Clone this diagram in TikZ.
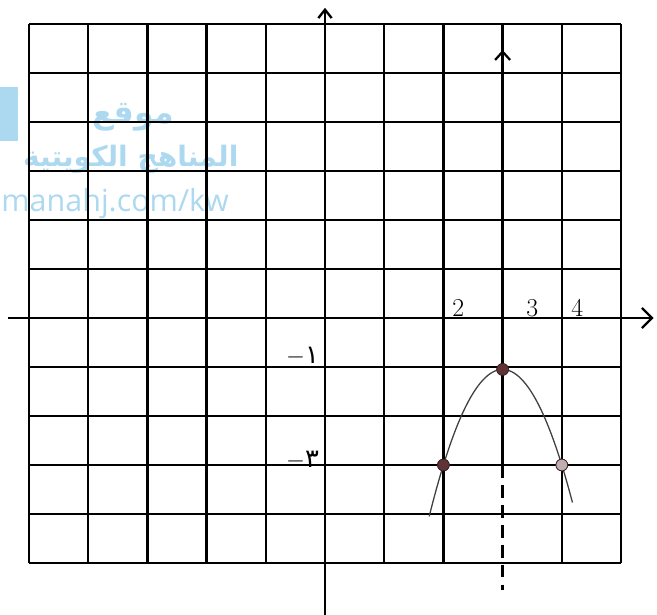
\documentclass[tikz,border=0pt]{standalone}
\usepackage{fontspec}
\newfontfamily\arabicfont[Script=Arabic]{DejaVu Sans}
\newfontfamily\wmfont{Open Sans}
\TeXXeTstate=1
\usepackage{tikz}
\usetikzlibrary{arrows.meta}

\begin{document}
\begin{tikzpicture}[x=1.776cm,y=1.47cm,
  gridline/.style={line width=1.9pt},
  axisline/.style={line width=2pt},
  dotpt/.style={circle,fill=dotbrn,draw=dotbrn!60!black,line width=.6pt,inner sep=0pt,minimum size=10pt},
  ticklbl/.style={inner sep=1pt,font=\fontsize{22}{25}\selectfont}]
\definecolor{wmblue}{RGB}{172,216,240}
\definecolor{dotbrn}{RGB}{96,52,54}
\useasboundingbox (-5.49,-6.061) rectangle (5.608,6.490);
%% --- watermark (under the grid) ---
\fill[wmblue] (-5.49,3.61) rectangle (-5.19,4.71);
\node[wmblue,font=\arabicfont\bfseries\fontsize{27}{30}\selectfont] (wmsite) at (-3.24,4.1) {\beginR موقع\endR};
\node[wmblue,font=\arabicfont\bfseries\fontsize{24}{28}\selectfont] (wmname) at (-3.28,3.25) {\beginR المناهج الكويتية\endR};
\node[wmblue,font=\wmfont\fontsize{26}{29}\selectfont,anchor=west,inner sep=0pt] (wmurl) at (-5.47,2.33) {manahj.com/kw};
%% --- grid (column x=3 is the axis of symmetry, drawn apart) ---
\foreach \j in {-5,...,6}
  \draw[gridline] (-5,\j) -- (5,\j);
\foreach \i in {-5,-4,-3,-2,-1,1,2,4,5}
  \draw[gridline] (\i,-5) -- (\i,6);
%% --- axes ---
\coordinate (xs) at (-5.35,0);
\coordinate (xe) at (5.55,0);
\coordinate (ys) at (0,-6.06);
\coordinate (ye) at (0,6.33);
\draw[axisline,-{Straight Barb[length=3mm,width=6mm]}] (xs) -- (xe);
\draw[axisline,-{Straight Barb[length=2.5mm,width=4mm]}] (ys) -- (ye);
%% --- points (2,-3) (3,-1) (4,-3) ---
\node[dotpt] (vtx) at (3,-1.05) {};
\node[dotpt] (lpt) at (2,-3) {};
\node[dotpt,fill=dotbrn!40] (rpt) at (4,-3) {};
%% --- axis of symmetry x=3 ---
\coordinate (stop) at (3,6);
\coordinate (shead) at (3,5.47);
\coordinate (sbot) at (3,-5.55);
\draw[gridline] (stop) -- (lpt.center -| stop);
\draw[gridline,-{Straight Barb[length=2.5mm,width=4.5mm]}] (3,5) -- (shead);
\draw[line width=2pt,dash pattern=on 11pt off 6pt] (lpt.center -| stop) -- (sbot);
%% --- parabola y=-2(x-3)^2-1 ---
\draw[black!75,line width=1.1pt] plot[domain=1.76:4.18,samples=60] (\x,{-1.95*(\x-3)^2-1.05});
\node[dotpt] at (vtx) {};
\node[dotpt] at (lpt) {};
\node[dotpt,fill=dotbrn!40] at (rpt) {};
%% --- labels ---
\node[ticklbl] (t2) at (2.25,0.2) {2};
\node[ticklbl] (t3) at (3.5,0.2) {3};
\node[ticklbl] (t4) at (4.26,0.2) {4};
\node[ticklbl] (tm1) at (-0.38,-0.78) {$-${\arabicfont ١}};
\node[ticklbl] (tm3) at (-0.38,-2.9) {$-${\arabicfont ٣}};
\end{tikzpicture}
\end{document}
